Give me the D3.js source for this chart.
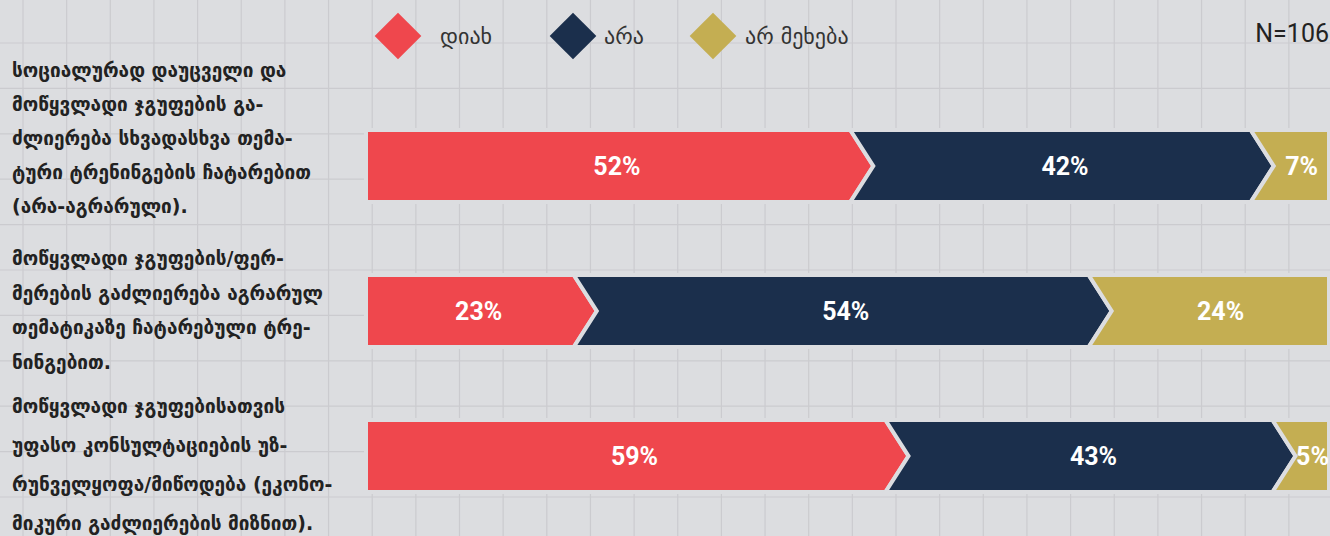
<!DOCTYPE html>
<html>
<head>
<meta charset="utf-8">
<script src="https://cdn.jsdelivr.net/npm/d3@7"></script>
<style>
  html, body { margin: 0; padding: 0; background: #dcdde0; }
  svg { display: block; }
</style>
</head>
<body>
<div id="chart"></div>
<script>
// data
var categories = [
  ["სოციალურად დაუცველი და", "მოწყვლადი ჯგუფების გა-", "ძლიერება სხვადასხვა თემა-", "ტური ტრენინგების ჩატარებით", "(არა-აგრარული)."],
  ["მოწყვლადი ჯგუფების/ფერ-", "მერების გაძლიერება აგრარულ", "თემატიკაზე ჩატარებული ტრე-", "ნინგებით."],
  ["მოწყვლადი ჯგუფებისათვის", "უფასო კონსულტაციების უზ-", "რუნველყოფა/მიწოდება (ეკონო-", "მიკური გაძლიერების მიზნით)."]
];
var seriesNames = ["დიახ", "არა", "არ მეხება"];
var yesValues = [52, 23, 59];
var noValues = [42, 54, 43];
var naValues = [7, 24, 5];
var sampleLabel = "N=106";

var colors = ["#ef474d", "#1b2f4c", "#c4ae52"];
var bg = "#dcdde0";

// label line layout per row (first baseline, step)
var labelLayout = [[77, 34], [265, 34.5], [413, 39]];
var legendX = [398, 573, 713];
var legendTextX = [440, 604, 745];

var W = 1330, H = 536;
var svg = d3.select("#chart").append("svg")
    .attr("width", W)
    .attr("height", H);

svg.append("rect").attr("width", W).attr("height", H).attr("fill", bg);

// background grid
var grid = svg.append("g").attr("stroke", "#cbcbcf").attr("stroke-width", 1.2);
grid.selectAll("line.v")
    .data(d3.range(23, W, 43.65))
    .enter().append("line")
    .attr("x1", function(d) { return d; }).attr("x2", function(d) { return d; })
    .attr("y1", 0).attr("y2", H);
grid.selectAll("line.h")
    .data(d3.range(43, H, 45.4))
    .enter().append("line")
    .attr("y1", function(d) { return d; }).attr("y2", function(d) { return d; })
    .attr("x1", 0).attr("x2", W);

var rows = categories.map(function(c, i) {
  return { lines: c, values: [yesValues[i], noValues[i], naValues[i]] };
});

var y = d3.scalePoint()
    .domain(d3.range(rows.length))
    .range([166, 456]);

var barH = 72, tip = 23;
var x0 = 366, x1 = 1329;

var rowG = svg.selectAll("g.row")
    .data(rows)
    .enter().append("g")
    .attr("class", "row");

rowG.each(function(row, ri) {
  var g = d3.select(this);
  var total = d3.sum(row.values);
  var x = d3.scaleLinear().domain([0, total]).range([x0, x1]);
  var cy = y(ri), top = cy - barH / 2, bot = cy + barH / 2;
  var acc = 0;
  var segs = row.values.map(function(v, k) {
    var s = { k: k, v: v, a: acc, b: acc + v };
    acc += v;
    return s;
  });
  var n = segs.length;

  g.selectAll("path.seg")
      .data(segs)
      .enter().append("path")
      .attr("class", "seg")
      .attr("fill", function(d) { return colors[d.k]; })
      .attr("stroke", bg)
      .attr("stroke-width", 4)
      .attr("stroke-linejoin", "miter")
      .attr("d", function(d) {
        var ba = x(d.a), bb = x(d.b);
        var lt = d.k === 0 ? ba : ba - tip / 2;
        var lm = d.k === 0 ? ba : ba + tip / 2;
        var rt = d.k === n - 1 ? bb : bb - tip / 2;
        var rm = d.k === n - 1 ? bb : bb + tip / 2;
        return "M" + lt + "," + top + "L" + rt + "," + top + "L" + rm + "," + cy +
               "L" + rt + "," + bot + "L" + lt + "," + bot + "L" + lm + "," + cy + "Z";
      });

  g.selectAll("text.val")
      .data(segs)
      .enter().append("text")
      .attr("class", "val")
      .attr("x", function(d) {
        var m = (x(d.a) + x(d.b)) / 2;
        return d.k === n - 1 ? m + 6 : m + 3;
      })
      .attr("y", cy + 9)
      .attr("text-anchor", "middle")
      .attr("fill", "#ffffff")
      .style("font-family", "Roboto, 'Liberation Sans', sans-serif")
      .style("font-weight", "bold")
      .style("font-size", "25px")
      .text(function(d) { return d.v + "%"; });

  var lay = labelLayout[ri];
  g.selectAll("text.cat")
      .data(row.lines)
      .enter().append("text")
      .attr("class", "cat")
      .attr("x", 12)
      .attr("y", function(d, li) { return lay[0] + li * lay[1]; })
      .attr("fill", "#222222")
      .style("font-family", "'DejaVu Sans', sans-serif")
      .style("font-weight", "bold")
      .style("font-size", "19px")
      .text(function(d) { return d; });
});

// legend
var legend = svg.selectAll("g.legend")
    .data(seriesNames)
    .enter().append("g")
    .attr("class", "legend");

legend.append("path")
    .attr("d", d3.symbol().type(d3.symbolSquare).size(33 * 33))
    .attr("transform", function(d, i) { return "translate(" + legendX[i] + ",36) rotate(45)"; })
    .attr("fill", function(d, i) { return colors[i]; });

legend.append("text")
    .attr("x", function(d, i) { return legendTextX[i]; })
    .attr("y", 44)
    .attr("fill", "#333333")
    .style("font-family", "'DejaVu Sans', sans-serif")
    .style("font-size", "22px")
    .text(function(d) { return d; });

svg.append("text")
    .attr("x", 1329)
    .attr("y", 42)
    .attr("text-anchor", "end")
    .attr("fill", "#222222")
    .style("font-family", "Roboto, sans-serif")
    .style("font-size", "25px")
    .text(sampleLabel);
</script>
</body>
</html>
